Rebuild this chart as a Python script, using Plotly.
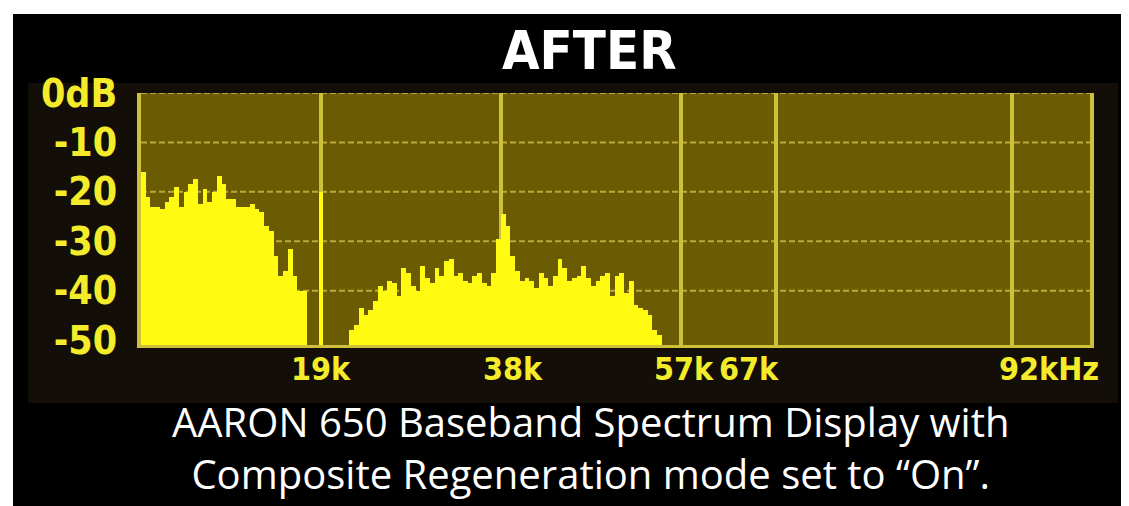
import plotly.graph_objects as go

# ---------------- data ----------------
BIN_KHZ = 0.5
FLOOR_DB = -51

MONO_START_KHZ = 0.0
MONO_DB = [-16, -21, -23, -23, -23.5, -22, -21, -19, -23, -20,
           -18.5, -17.5, -22.5, -19.5, -22, -20, -16.8, -18.5, -21.5, -21.5,
           -23, -23, -23, -22.5, -23.5, -24, -27, -28, -33, -37,
           -36, -31.5, -37, -40, -40]

PILOT_KHZ = 19
PILOT_DB = -20

STEREO_START_KHZ = 22.0
STEREO_DB = [-48, -47, -43.5, -45, -44, -42, -39, -40, -38, -38.5,
             -41, -35.5, -36.5, -39, -40, -35, -37.5, -38.5, -35.5, -37,
             -34, -33.5, -37, -36.5, -38, -38.5, -37, -36.5, -38.5, -39,
             -36.5, -29.5, -24.5, -27, -33, -36, -38, -37.5, -38, -39.5,
             -36.5, -37.5, -39, -37, -33.5, -35.5, -38, -37.5, -37, -35,
             -37.5, -39, -38, -37, -36.5, -41, -37, -36.5, -40.5, -38,
             -43, -43.5, -44, -45, -48, -49]

GRID_KHZ = [19, 38, 57, 67, 92]
X_LABELS = ["19k", "38k", "57k", "67k", "92kHz"]
Y_TICKS = [0, -10, -20, -30, -40, -50]
Y_LABELS = ["0dB", "-10", "-20", "-30", "-40", "-50"]
H_GRID_DB = [0, -10, -20, -30, -40]

TITLE = "AFTER"
CAPTION = ["AARON 650 Baseband Spectrum Display with",
           "Composite Regeneration mode set to \u201cOn\u201d."]

# ---------------- styling / layout ----------------
W, H = 1129, 506
L, R, T, B = 133, 47, 85, 169
PW, PH = W - L - R, H - T - B
X_RANGE = [0, 100.2]
Y_RANGE = [FLOOR_DB, 0]

YELLOW = "#fffa10"
GRIDV = "#cfc03a"
GRIDH = "#b9aa3c"
OLIVE = "#6b5b02"
BOLD_FAMILY = "DejaVu Sans Condensed, Liberation Sans Narrow, sans-serif"
LABEL_COLOR = "#f4ec2a"
X_LABEL_FONT = dict(family=BOLD_FAMILY, size=32, color=LABEL_COLOR, weight=700)
Y_LABEL_FONT = dict(family=BOLD_FAMILY, size=39, color=LABEL_COLOR, weight=700)
X_LABEL_SHIFT = [0, 12, 3, -27, 37]


def px_x(p):
    return (p - L) / PW


def px_y(p):
    return (H - B - p) / PH


def centers(start, n):
    return [start + (i + 0.5) * BIN_KHZ for i in range(n)]


fig = go.Figure()

for start, vals in [(MONO_START_KHZ, MONO_DB), (STEREO_START_KHZ, STEREO_DB)]:
    fig.add_trace(go.Bar(
        x=centers(start, len(vals)),
        y=[v - FLOOR_DB for v in vals],
        base=FLOOR_DB,
        width=BIN_KHZ,
        marker=dict(color=YELLOW, line=dict(width=0)),
        showlegend=False, hoverinfo="skip"))

fig.add_trace(go.Bar(
    x=[PILOT_KHZ], y=[PILOT_DB - FLOOR_DB], base=FLOOR_DB, width=0.4,
    marker=dict(color=YELLOW, line=dict(width=0)),
    showlegend=False, hoverinfo="skip"))

shapes = []
# white strips of the scanned frame
shapes.append(dict(type="rect", xref="paper", yref="paper", layer="below",
                   x0=px_x(0), x1=px_x(5), y0=px_y(H), y1=px_y(0),
                   fillcolor="white", line=dict(width=0)))
shapes.append(dict(type="rect", xref="paper", yref="paper", layer="below",
                   x0=px_x(0), x1=px_x(W), y0=px_y(6), y1=px_y(0),
                   fillcolor="white", line=dict(width=0)))
# dark bezel
shapes.append(dict(type="rect", xref="paper", yref="paper", layer="below",
                   x0=px_x(20), x1=px_x(1110), y0=px_y(395), y1=px_y(75),
                   fillcolor="#140e08", line=dict(width=0)))
# screen background
shapes.append(dict(type="rect", xref="paper", yref="paper", layer="below",
                   x0=0, x1=1, y0=0, y1=1, fillcolor=OLIVE, line=dict(width=0)))
# dotted horizontal grid
for v in H_GRID_DB:
    shapes.append(dict(type="line", xref="paper", yref="y", layer="below",
                       x0=0, x1=1, y0=v, y1=v,
                       line=dict(color=GRIDH, width=2, dash="6px,3px")))

annotations = []
for k, lab, dx in zip(GRID_KHZ, X_LABELS, X_LABEL_SHIFT):
    annotations.append(dict(x=k, xref="x", y=0, yref="paper", text=lab,
                            showarrow=False, xanchor="center", yanchor="middle",
                            xshift=dx, yshift=-24, font=X_LABEL_FONT))
annotations.append(dict(x=px_x(581), xref="paper", y=px_y(43), yref="paper",
                        text=TITLE, showarrow=False, xanchor="center", yanchor="middle",
                        font=dict(family=BOLD_FAMILY, size=54, color="white", weight=700)))
annotations.append(dict(x=px_x(582), xref="paper", y=px_y(439), yref="paper",
                        text="<br>".join(CAPTION), align="center",
                        showarrow=False, xanchor="center", yanchor="middle",
                        font=dict(family="Open Sans, sans-serif", size=40, color="white")))

fig.update_layout(
    width=W, height=H,
    margin=dict(l=L, r=R, t=T, b=B, pad=0),
    paper_bgcolor="black", plot_bgcolor=OLIVE,
    bargap=0, barmode="overlay",
    shapes=shapes, annotations=annotations,
    xaxis=dict(range=X_RANGE, tickvals=GRID_KHZ, showticklabels=False,
               showgrid=True, gridcolor=GRIDV, gridwidth=4, zeroline=False,
               showline=True, linecolor=GRIDV, linewidth=3, ticks="", fixedrange=True),
    yaxis=dict(range=Y_RANGE, tickvals=Y_TICKS, ticktext=Y_LABELS,
               showgrid=False, zeroline=False, showline=True, mirror=True,
               linecolor=GRIDV, linewidth=4, ticks="", ticklabelstandoff=12,
               tickfont=Y_LABEL_FONT, fixedrange=True),
)

fig.write_html("out.html")
